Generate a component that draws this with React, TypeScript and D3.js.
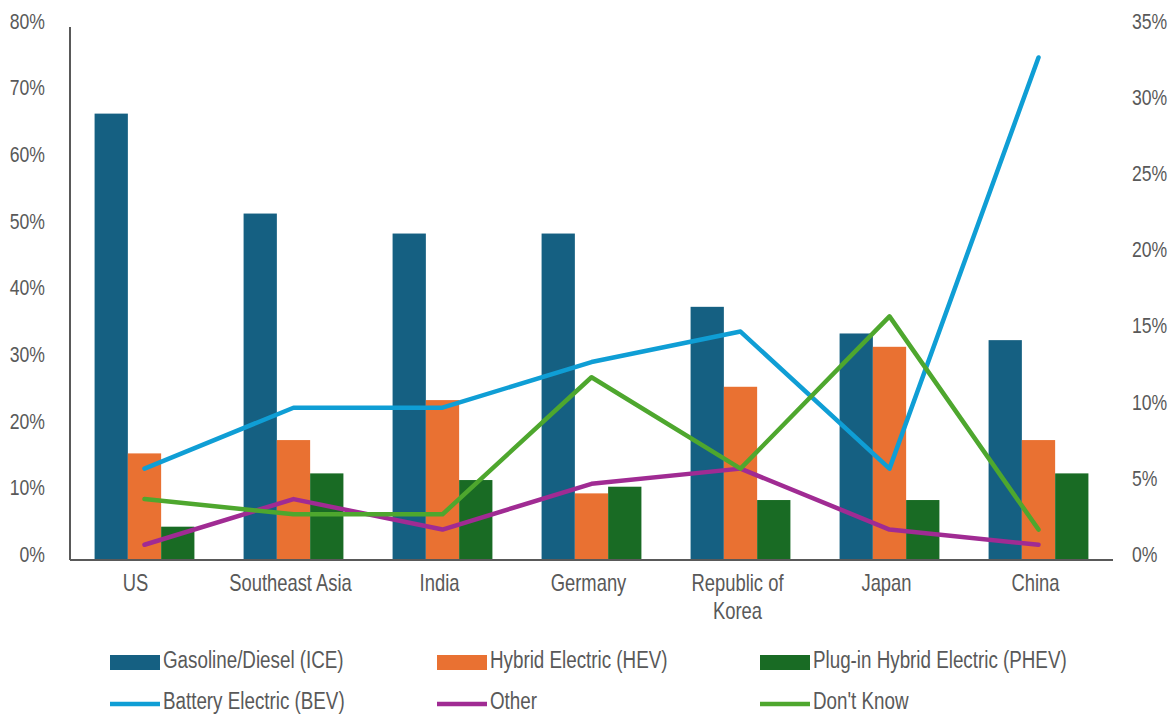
import { line, scaleBand, scaleLinear } from "d3";
import type { ReactNode } from "react";

const categories = ["US", "Southeast Asia", "India", "Germany", "Republic of Korea", "Japan", "China"];
const iceValues = [67, 52, 49, 49, 38, 34, 33];
const hevValues = [16, 18, 24, 10, 26, 32, 18];
const phevValues = [5, 13, 12, 11, 9, 9, 13];
const bevValues = [6, 10, 10, 13, 15, 6, 33];
const otherValues = [1, 4, 2, 5, 6, 2, 1];
const dontKnowValues = [4, 3, 3, 12, 6, 16, 2];
const leftTicks = [0, 10, 20, 30, 40, 50, 60, 70, 80];
const rightTicks = [0, 5, 10, 15, 20, 25, 30, 35];

const barSeries = [
    { name: "Gasoline/Diesel (ICE)", values: iceValues, color: "#156082" },
    { name: "Hybrid Electric (HEV)", values: hevValues, color: "#e97132" },
    { name: "Plug-in Hybrid Electric (PHEV)", values: phevValues, color: "#196b24" },
];
const lineSeries = [
    { name: "Battery Electric (BEV)", values: bevValues, color: "#0f9ed5" },
    { name: "Other", values: otherValues, color: "#a02b93" },
    { name: "Don't Know", values: dontKnowValues, color: "#4ea72e" },
];

const font = "'Liberation Sans', Arial, sans-serif";
const squeeze = 0.8 // no narrow font installed, so squash the regular one

function Txt(props: { x: number, y: number, anchor?: string, size?: number, children: ReactNode }) {
    return (
        <text transform={`translate(${props.x},${props.y}) scale(${squeeze},1)`}
            textAnchor={props.anchor ?? "start"} dominantBaseline="middle"
            fontSize={props.size ?? 22} fill="#595959">{props.children}</text>
    )
}

export default function App() {
    const left = 70, right = 1113, top = 27, bottom = 560;

    const x = scaleBand<string>().domain(categories).range([left, right]);
    const inner = scaleBand<number>().domain([0, 1, 2]).range([0, x.bandwidth() * 0.67]);
    const groupOffset = (x.bandwidth() - x.bandwidth() * 0.67) / 2;
    const yLeft = scaleLinear().domain([0, 80]).range([bottom, top]);
    const yRight = scaleLinear().domain([0, 35]).range([bottom, top]);

    const path = line<number>()
        .x((_, i) => (x(categories[i]) ?? 0) + groupOffset + (inner(1) ?? 0) + inner.bandwidth() / 2)
        .y(d => yRight(d));

    const legendCols = [110, 437, 760];

    return (
        <svg width={1173} height={717} style={{ position: "absolute", left: 0, top: 0, background: "#fff" }}
            fontFamily={font}>
            {/* bars */}
            {barSeries.map((s, si) => (
                <g key={s.name}>
                    {s.values.map((v, i) => (
                        <rect key={i}
                            x={(x(categories[i]) ?? 0) + groupOffset + (inner(si) ?? 0)}
                            y={yLeft(v)}
                            width={inner.bandwidth()}
                            height={bottom - yLeft(v)}
                            fill={s.color} />
                    ))}
                </g>
            ))}

            {/* axes */}
            <line x1={left} x2={left} y1={top} y2={bottom} stroke="#595959" strokeWidth={2} />
            <line x1={left} x2={right} y1={bottom} y2={bottom} stroke="#595959" strokeWidth={2} />

            {leftTicks.map(t => (
                <Txt key={t} x={45} y={yLeft(t) - 4} anchor="end">{t}%</Txt>
            ))}
            {rightTicks.map(t => (
                <Txt key={t} x={1132} y={yRight(t) - 4}>{t}%</Txt>
            ))}
            {categories.map((c, i) => {
                const parts = c === "Republic of Korea" ? ["Republic of", "Korea"] : [c];
                const cx = (x(c) ?? 0) + x.bandwidth() / 2 - (i === 0 ? 9 : 3);
                return parts.map((p, k) => (
                    <Txt key={c + k} x={cx} y={585 + k * 28} anchor="middle" size={23}>{p}</Txt>
                ));
            })}

            {/* lines */}
            {lineSeries.map(s => (
                <path key={s.name} d={path(s.values) ?? ""} fill="none" stroke={s.color} strokeWidth={4.5}
                    strokeLinejoin="round" strokeLinecap="round" />
            ))}

            {/* legend */}
            {barSeries.map((s, i) => (
                <g key={s.name} transform={`translate(${legendCols[i]},662)`}>
                    <rect x={0} y={-7} width={50} height={15} fill={s.color} />
                    <Txt x={53} y={0} size={23.5}>{s.name}</Txt>
                </g>
            ))}
            {lineSeries.map((s, i) => (
                <g key={s.name} transform={`translate(${legendCols[i]},704)`}>
                    <line x1={0} x2={50} y1={0} y2={0} stroke={s.color} strokeWidth={4.5} />
                    <Txt x={53} y={-1} size={23.5}>{s.name}</Txt>
                </g>
            ))}
        </svg>
    );
}
